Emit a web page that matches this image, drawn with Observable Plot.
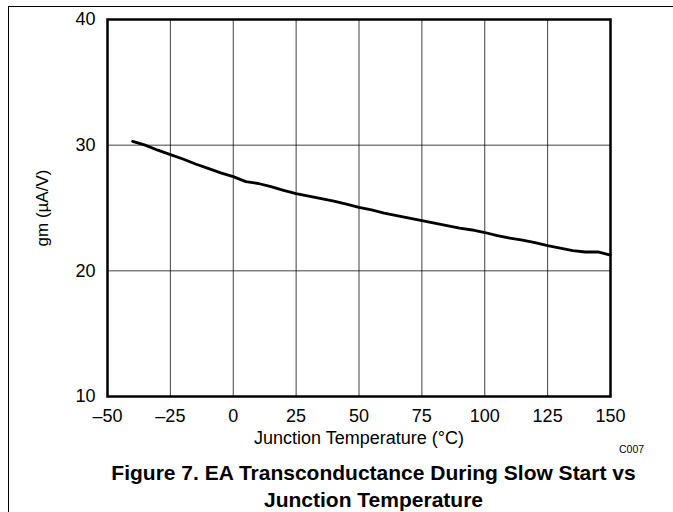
<!DOCTYPE html>
<html>
<head>
<meta charset="utf-8">
<script src="https://cdn.jsdelivr.net/npm/d3@7"></script>
<script src="https://cdn.jsdelivr.net/npm/@observablehq/plot@0.6"></script>
<style>
  html, body { margin: 0; padding: 0; background: #fff; }
  #wrap { position: relative; width: 673px; height: 512px; overflow: hidden; }
  #border { position: absolute; left: 7.5px; top: 5.5px; width: 700px; height: 600px;
            border-left: 1.5px solid #000; border-top: 1.5px solid #000; }
  #chart { position: absolute; left: 0; top: 0; }
</style>
</head>
<body>
<div id="wrap"><div id="border"></div><div id="chart"></div></div>
<script>
// Junction temperature (°C)
const temperature = [-40, -35, -30, -25, -20, -15, -10, -5, 0, 5, 10, 15, 20, 25, 30, 35, 40, 45, 50,
  55, 60, 65, 70, 75, 80, 85, 90, 95, 100, 105, 110, 115, 120, 125, 130, 135, 140, 145, 150];
// gm (µA/V)
const gm = [30.3, 30.0, 29.6, 29.25, 28.9, 28.5, 28.15, 27.8, 27.5, 27.1, 26.95, 26.7, 26.4, 26.15,
  25.95, 25.75, 25.55, 25.3, 25.05, 24.85, 24.6, 24.4, 24.2, 24.0, 23.8, 23.6, 23.4, 23.25, 23.05,
  22.8, 22.6, 22.45, 22.25, 22.0, 21.8, 21.6, 21.5, 21.5, 21.25];

const xTicks = [-50, -25, 0, 25, 50, 75, 100, 125, 150];
const yTicks = [10, 20, 30, 40];
const xLabel = "Junction Temperature (°C)";
const yLabel = "gm (µA/V)";
const titleLines = ["Figure 7. EA Transconductance During Slow Start vs", "Junction Temperature"];
const figCode = "C007";

const data = temperature.map((t, i) => ({t, g: gm[i]}));
const fmt = d => d < 0 ? "\u2013" + Math.abs(d) : String(d);

const chart = Plot.plot({
  width: 673,
  height: 512,
  marginLeft: 107,
  marginRight: 63,
  marginTop: 19,
  marginBottom: 116,
  style: {fontFamily: "'Liberation Sans', Arial, sans-serif", fontSize: "18px", background: "transparent", color: "#000"},
  x: {domain: [-50, 150], ticks: xTicks},
  y: {domain: [10, 40], ticks: yTicks},
  marks: [
    Plot.gridX(xTicks, {stroke: "#000", strokeOpacity: 0.75, strokeWidth: 1}),
    Plot.gridY(yTicks, {stroke: "#000", strokeOpacity: 0.75, strokeWidth: 1}),
    Plot.axisX(xTicks, {tickSize: 0, tickPadding: 13, tickFormat: fmt, label: null, fontSize: 18}),
    Plot.axisY(yTicks, {tickSize: 0, tickPadding: 12, label: null, fontSize: 18}),
    Plot.line(data, {x: "t", y: "g", stroke: "#000", strokeWidth: 2.8}),
    Plot.frame({stroke: "#000", strokeWidth: 2.5}),
    Plot.text([yLabel], {frameAnchor: "left", dx: -65, rotate: -90, fontSize: 17, textAnchor: "middle", lineAnchor: "middle"}),
    Plot.text([xLabel], {frameAnchor: "bottom", dy: 42, fontSize: 18, lineAnchor: "middle"}),
    Plot.text([figCode], {frameAnchor: "bottom-right", dx: 21, dy: 53, fontSize: 10.5, textAnchor: "middle", lineAnchor: "middle"}),
    Plot.text([titleLines[0]], {frameAnchor: "bottom", dx: 14.5, dy: 77, fontSize: 21, fontWeight: "bold", lineAnchor: "middle"}),
    Plot.text([titleLines[1]], {frameAnchor: "bottom", dx: 14.5, dy: 104, fontSize: 21, fontWeight: "bold", lineAnchor: "middle"})
  ]
});
document.getElementById("chart").appendChild(chart);
</script>
</body>
</html>
